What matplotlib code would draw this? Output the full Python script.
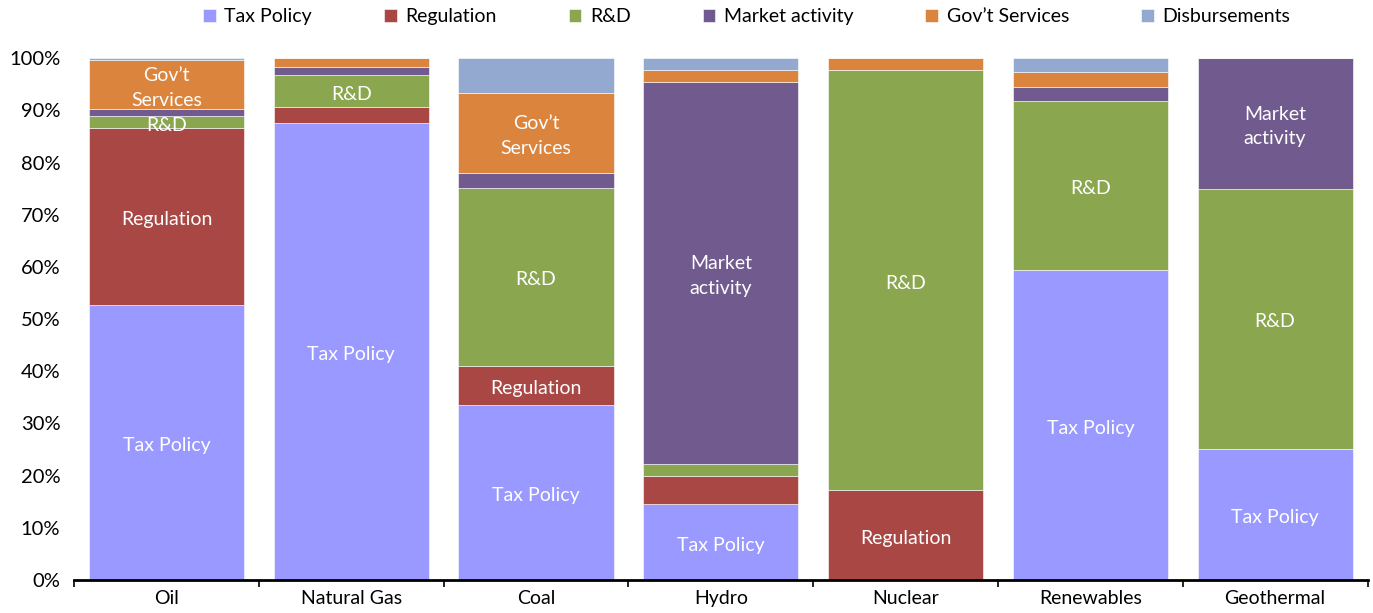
import matplotlib
matplotlib.use("Agg")
import matplotlib.pyplot as plt
import numpy as np
from matplotlib.ticker import PercentFormatter

plt.rcParams['font.family'] = ['Lato', 'DejaVu Sans']

categories = ["Oil", "Natural Gas", "Coal", "Hydro", "Nuclear", "Renewables", "Geothermal"]
series_names = ["Tax Policy", "Regulation", "R&D", "Market activity", "Gov\u2019t Services", "Disbursements"]
tax_policy      = [52.7, 87.6, 33.5, 14.5, 0.0, 59.4, 25.1]
regulation      = [33.9, 3.1, 7.5, 5.4, 17.2, 0.0, 0.0]
r_and_d         = [2.3, 6.0, 34.2, 2.3, 80.5, 32.4, 49.9]
market_activity = [1.4, 1.6, 2.8, 73.3, 0.0, 2.7, 25.0]
govt_services   = [9.3, 1.7, 15.3, 2.2, 2.3, 2.8, 0.0]
disbursements   = [0.4, 0.0, 6.7, 2.3, 0.0, 2.7, 0.0]
colors = ["#9999FF", "#A94744", "#8AA64F", "#715A8E", "#DB843D", "#94A9D0"]

# in-bar labels: (category index, series index, text)
bar_labels = [
    (0, 4, "Gov\u2019t\nServices"), (0, 2, "R&D"), (0, 1, "Regulation"), (0, 0, "Tax Policy"),
    (1, 2, "R&D"), (1, 0, "Tax Policy"),
    (2, 4, "Gov\u2019t\nServices"), (2, 2, "R&D"), (2, 1, "Regulation"), (2, 0, "Tax Policy"),
    (3, 3, "Market\nactivity"), (3, 0, "Tax Policy"),
    (4, 2, "R&D"), (4, 1, "Regulation"),
    (5, 2, "R&D"), (5, 0, "Tax Policy"),
    (6, 3, "Market\nactivity"), (6, 2, "R&D"), (6, 0, "Tax Policy"),
]

data = np.array([tax_policy, regulation, r_and_d, market_activity, govt_services, disbursements])
data = data / data.sum(axis=0) * 100

fig = plt.figure(figsize=(13.73, 6.13), dpi=100)
ax = fig.add_axes([0.054, 0.054, 0.942, 0.851])
x = np.arange(len(categories))
bottom = np.zeros(len(categories))
bottoms = []
for i, name in enumerate(series_names):
    bottoms.append(bottom.copy())
    ax.bar(x, data[i], 0.84, bottom=bottom, color=colors[i], label=name,
           edgecolor='white', linewidth=0.4)
    bottom += data[i]
bottoms = np.array(bottoms)

for ci, si, txt in bar_labels:
    yc = bottoms[si, ci] + data[si, ci] / 2
    ax.text(x[ci], yc - 0.6, txt, ha='center', va='center', color='white', fontsize=14,
            linespacing=1.55)

ax.set_xlim(-0.5, len(categories) - 0.5)
ax.set_ylim(0, 100)
ax.set_yticks(np.arange(0, 101, 10))
ax.yaxis.set_major_formatter(PercentFormatter(decimals=0))
ax.set_xticks(x)
ax.set_xticklabels(categories)
ax.set_xticks(np.arange(-0.5, len(categories), 1), minor=True)
ax.tick_params(axis='x', which='major', length=0, labelsize=14, pad=7)
ax.tick_params(axis='x', which='minor', length=5, width=1.2, direction='out')
ax.tick_params(axis='y', length=0, labelsize=14.5, pad=10)
for s in ['top', 'right', 'left']:
    ax.spines[s].set_visible(False)
ax.spines['bottom'].set_linewidth(2)

ax.legend(loc='center', bbox_to_anchor=(0.52, 1.08), ncol=6, frameon=False,
          fontsize=14, handlelength=0.65, handleheight=0.65, columnspacing=3.7,
          handletextpad=0.45, borderaxespad=0)

fig.savefig("out.png", dpi=100)
